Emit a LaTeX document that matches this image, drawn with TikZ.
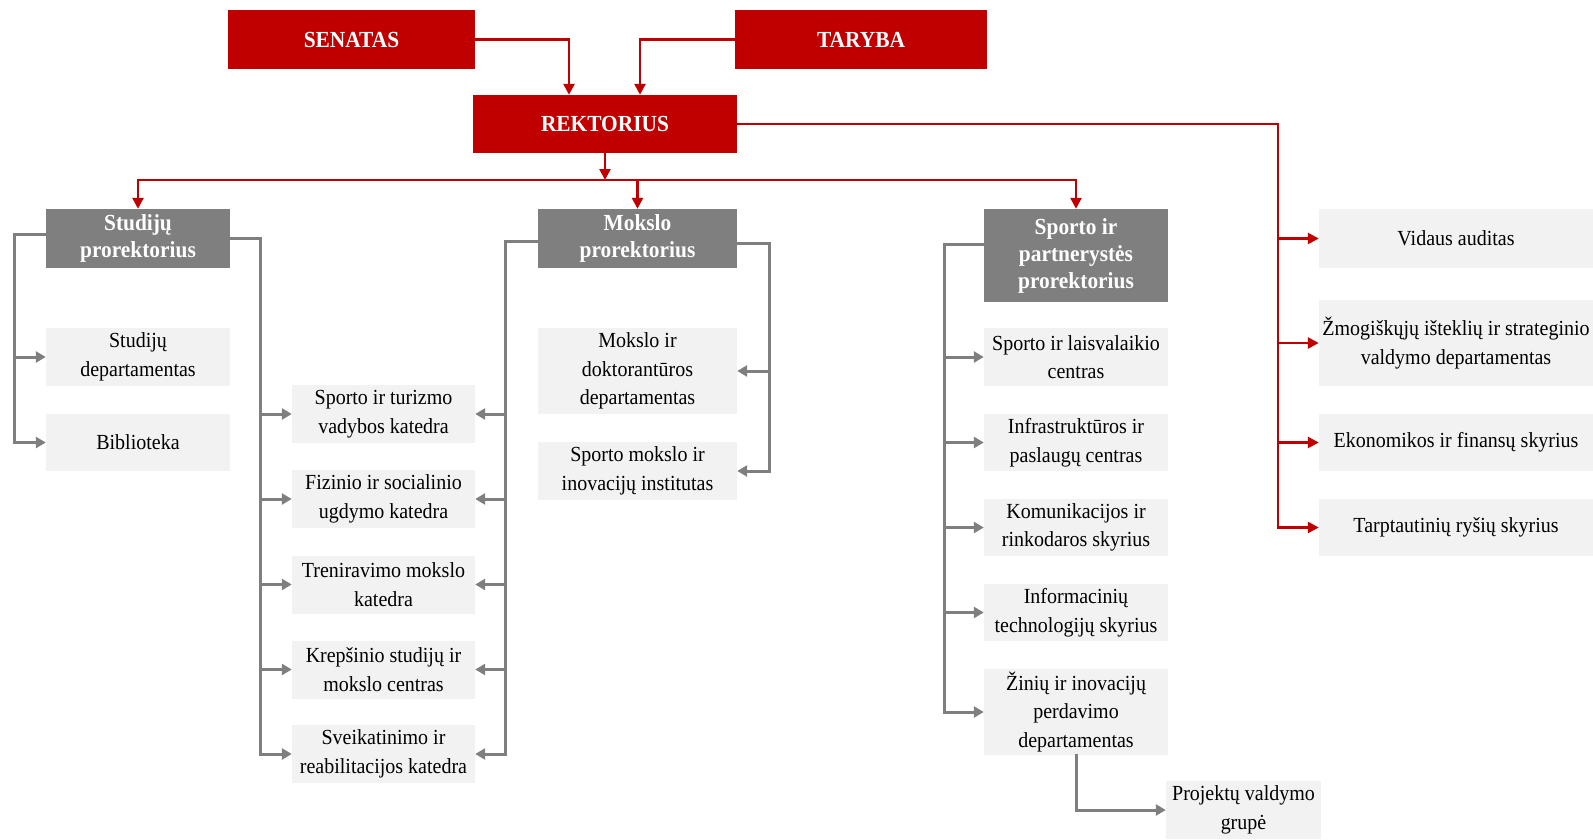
\documentclass[tikz,border=0pt]{standalone}
\usepackage{fontspec}
\setmainfont{Liberation Serif}[FakeStretch=0.93]
\usetikzlibrary{arrows.meta}

\definecolor{rektred}{HTML}{C00000}
\definecolor{prorgrey}{HTML}{7F7F7F}
\definecolor{unitgrey}{HTML}{F2F2F2}

\tikzset{
  headbox/.style={fill=rektred, text=white, inner sep=0pt, align=center,
    font=\fontsize{23}{27}\selectfont\bfseries},
  prorbox/.style={fill=prorgrey, text=white, inner sep=0pt, align=center,
    font=\fontsize{23}{27}\selectfont\bfseries},
  unitbox/.style={fill=unitgrey, text=black, inner sep=0pt, align=center,
    font=\fontsize{21.5}{28.5}\selectfont},
  redline/.style={draw=rektred, line width=2.5pt, line cap=rect},
  redarrow/.style={redline, -{Triangle[length=11pt,width=11pt]}},
  greyline/.style={draw=prorgrey, line width=3pt, line cap=rect},
  greyarrow/.style={greyline, -{Triangle[length=10pt,width=11pt]}},
}

\begin{document}
\begin{tikzpicture}[x=1pt, y=-1pt, line join=miter]
  \useasboundingbox (0,0) rectangle (1593,839);

  % top management
  \node[headbox, minimum width=247pt, minimum height=59pt] (senatas) at (351.5,39.5) {SENATAS};
  \node[headbox, minimum width=252pt, minimum height=59pt] (taryba) at (861,39.5) {TARYBA};
  \node[headbox, minimum width=264pt, minimum height=58pt] (rektorius) at (605,124) {REKTORIUS};

  % prorektoriai
  \node[prorbox, minimum width=184pt, minimum height=59pt] (studpr) at (138,238.5) {Studijų\\prorektorius};
  \node[prorbox, minimum width=199pt, minimum height=59pt] (mokpr) at (637.5,238.5) {Mokslo\\prorektorius};
  \node[prorbox, minimum width=184pt, minimum height=93pt] (sportpr) at (1076,255.5) {Sporto ir\\partnerystės\\prorektorius};

  % units
  \foreach \name/\y/\h/\txt in {studdep/357/58/{Studijų\\departamentas}, bibl/442.5/57/Biblioteka}
    \node[unitbox, minimum width=184pt, minimum height=\h pt] (\name) at (138,\y) {\txt};
  \foreach \name/\y/\txt in {katA/414/{Sporto ir turizmo\\vadybos katedra},
      katB/499/{Fizinio ir socialinio\\ugdymo katedra},
      katC/584.5/{Treniravimo mokslo\\katedra},
      katD/669.5/{Krepšinio studijų ir\\mokslo centras},
      katE/754/{Sveikatinimo ir\\reabilitacijos katedra}}
    \node[unitbox, minimum width=183pt, minimum height=58pt] (\name) at (383.5,\y) {\txt};
  \foreach \name/\y/\h/\txt in {mokdep/371/86/{Mokslo ir\\doktorantūros\\departamentas},
      inst/471/58/{Sporto mokslo ir\\inovacijų institutas}}
    \node[unitbox, minimum width=199pt, minimum height=\h pt] (\name) at (637.5,\y) {\txt};
  \foreach \name/\y/\h/\txt in {centA/357/58/{Sporto ir laisvalaikio\\centras},
      centB/442.5/57/{Infrastruktūros ir\\paslaugų centras},
      skyA/527.5/57/{Komunikacijos ir\\rinkodaros skyrius},
      skyB/612.5/57/{Informacinių\\technologijų skyrius},
      zinios/712/86/{Žinių ir inovacijų\\perdavimo\\departamentas}}
    \node[unitbox, minimum width=184pt, minimum height=\h pt] (\name) at (1076,\y) {\txt};
  \node[unitbox, minimum width=155pt, minimum height=58pt] (projekt) at (1243.5,810) {Projektų valdymo\\grupė};
  \foreach \name/\y/\h/\txt in {audit/238.5/59/{Vidaus auditas},
      zmog/343/86/{Žmogiškųjų išteklių ir strateginio\\valdymo departamentas},
      ekon/442.5/57/{Ekonomikos ir finansų skyrius},
      tarpt/527.5/57/{Tarptautinių ryšių skyrius}}
    \node[unitbox, minimum width=274pt, minimum height=\h pt] (\name) at (1456,\y) {\txt};

  % red connectors
  \draw[redarrow] (senatas.east) -| ([xshift=-36pt]rektorius.north);
  \draw[redarrow] (taryba.west) -| ([xshift=35pt]rektorius.north);
  \coordinate (bus) at (605,180);
  \draw[redarrow] (rektorius.south) -- (bus);
  \draw[redline] (bus -| studpr.north) -- (bus -| sportpr.north);
  \foreach \p in {studpr, mokpr, sportpr}
    \draw[redarrow] (bus -| \p.north) -- (\p.north);
  \coordinate (side) at (1278,124);
  \draw[redline] (rektorius.east) -- (side) -- (side |- tarpt.west);
  \foreach \u in {audit, zmog, ekon, tarpt}
    \draw[redarrow] (side |- \u.west) -- (\u.west);

  % grey connectors
  \draw[greyline] ([yshift=4pt]studpr.west) -- ++(-31,0) coordinate (sA) -- (sA |- bibl.west);
  \foreach \u in {studdep, bibl}
    \draw[greyarrow] (sA |- \u.west) -- (\u.west);
  \draw[greyline] (studpr.east) -- ++(30,0) coordinate (sB) -- (sB |- katE.west);
  \draw[greyline] ([yshift=-3pt]mokpr.west) -- ++(-32,0) coordinate (mA) -- (mA |- katE.east);
  \foreach \u in {katA, katB, katC, katD, katE} {
    \draw[greyarrow] (sB |- \u.west) -- (\u.west);
    \draw[greyarrow] (mA |- \u.east) -- (\u.east);
  }
  \draw[greyline] ([yshift=-5pt]mokpr.east) -- ++(32,0) coordinate (mB) -- (mB |- inst.east);
  \foreach \u in {mokdep, inst}
    \draw[greyarrow] (mB |- \u.east) -- (\u.east);
  \draw[greyline] ([yshift=11pt]sportpr.west) -- ++(-39,0) coordinate (pA) -- (pA |- zinios.west);
  \foreach \u in {centA, centB, skyA, skyB, zinios}
    \draw[greyarrow] (pA |- \u.west) -- (\u.west);
  \draw[greyarrow] (zinios.south) |- (projekt.west);
\end{tikzpicture}
\end{document}
